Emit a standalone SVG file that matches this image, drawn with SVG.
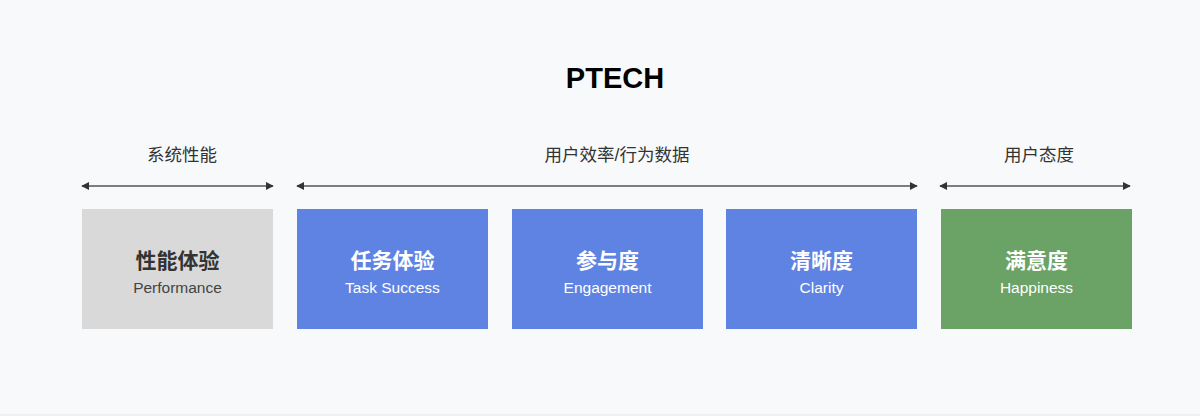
<svg xmlns="http://www.w3.org/2000/svg" width="1200" height="416" viewBox="0 0 1200 416">
<defs>
<marker id="ah" viewBox="0 0 10 10" refX="9" refY="5" markerWidth="8" markerHeight="8" markerUnits="userSpaceOnUse" orient="auto-start-reverse">
<path d="M0,0 L10,5 L0,10 z" fill="#333"/>
</marker>
<style>
.t{font-family:"Liberation Sans","Noto Sans CJK SC",sans-serif;text-anchor:middle}
.cat{font-size:17.5px;fill:#333}
.cn{font-size:21px;font-weight:bold}
.en{font-size:15.5px}
.arr{stroke:#555;stroke-width:1.5;fill:none;marker-start:url(#ah);marker-end:url(#ah)}
</style>
</defs>
<rect width="1200" height="416" fill="#f8f9fb"/>
<line x1="0" y1="415" x2="1200" y2="415" stroke="#e6e7ea" stroke-width="1"/>
<text class="t" x="615" y="88" font-size="29" font-weight="bold" fill="#000">PTECH</text>
<text class="t cat" x="182" y="161">系统性能</text>
<text class="t cat" x="617" y="161">用户效率/行为数据</text>
<text class="t cat" x="1039" y="161">用户态度</text>
<g id="connectors">
<line class="arr" x1="82" y1="186" x2="273" y2="186"/>
<line class="arr" x1="297" y1="186" x2="917" y2="186"/>
<line class="arr" x1="940" y1="186" x2="1130" y2="186"/>
</g>
<g id="performance">
<rect x="82" y="209" width="191" height="120" fill="#d9d9d9"/>
<text class="t cn" x="177.5" y="268" fill="#333">性能体验</text>
<text class="t en" x="177.5" y="293" fill="#444">Performance</text>
</g>
<g id="task">
<rect x="297" y="209" width="191" height="120" fill="#5f83e3"/>
<text class="t cn" x="392.5" y="268" fill="#fff">任务体验</text>
<text class="t en" x="392.5" y="293" fill="#fff">Task Success</text>
</g>
<g id="engagement">
<rect x="512" y="209" width="191" height="120" fill="#5f83e3"/>
<text class="t cn" x="607.5" y="268" fill="#fff">参与度</text>
<text class="t en" x="607.5" y="293" fill="#fff">Engagement</text>
</g>
<g id="clarity">
<rect x="726" y="209" width="191" height="120" fill="#5f83e3"/>
<text class="t cn" x="821.5" y="268" fill="#fff">清晰度</text>
<text class="t en" x="821.5" y="293" fill="#fff">Clarity</text>
</g>
<g id="happiness">
<rect x="941" y="209" width="191" height="120" fill="#6aa365"/>
<text class="t cn" x="1036.5" y="268" fill="#fff">满意度</text>
<text class="t en" x="1036.5" y="293" fill="#fff">Happiness</text>
</g>
</svg>
